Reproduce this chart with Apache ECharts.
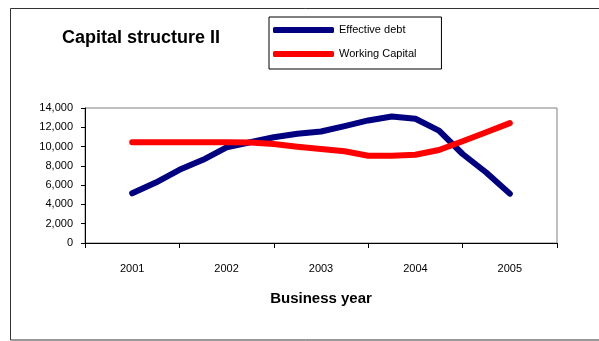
<!DOCTYPE html>
<html>
<head>
<meta charset="utf-8">
<script src="https://cdn.jsdelivr.net/npm/echarts@6/dist/echarts.min.js"></script>
<style>
  html, body { margin: 0; padding: 0; background: #fff; }
  #chart { width: 599px; height: 341px; }
</style>
</head>
<body>
<div id="chart"></div>
<script>
// Business years shown on the category axis
const years = ['2001', '2002', '2003', '2004', '2005'];
// Quarterly observation points (fractional year position)
const periods = [2001, 2001.25, 2001.5, 2001.75, 2002, 2002.25, 2002.5, 2002.75,
                 2003, 2003.25, 2003.5, 2003.75, 2004, 2004.25, 2004.5, 2004.75, 2005];
const effectiveDebt = [5150, 6270, 7590, 8630, 9920, 10450, 10970, 11320,
                       11560, 12120, 12710, 13120, 12880, 11660, 9230, 7310, 5120];
const workingCapital = [10450, 10450, 10450, 10450, 10450, 10410, 10270, 9990,
                        9750, 9510, 9050, 9050, 9150, 9640, 10550, 11490, 12430];
const yTicks = [0, 2000, 4000, 6000, 8000, 10000, 12000, 14000];

const pairs = (vals) => periods.map((p, i) => [p, vals[i]]);
const FONT = 'Liberation Sans, Arial, sans-serif';

const chart = echarts.init(document.getElementById('chart'), null, { renderer: 'canvas' });
chart.setOption({
  animation: false,
  backgroundColor: '#fff',
  title: {
    text: 'Capital structure II',
    left: 57, top: 24,
    textStyle: { fontFamily: FONT, fontSize: 18, fontWeight: 'bold', color: '#000' }
  },
  legend: {
    orient: 'vertical',
    left: 269, top: 17,
    padding: [7, 25, 9, 4],
    itemWidth: 61, itemHeight: 6,
    itemGap: 12,
    icon: 'roundRect',
    borderColor: '#000', borderWidth: 1,
    textStyle: { fontFamily: FONT, fontSize: 11, color: '#000', lineHeight: 12 },
    data: ['Effective debt', 'Working Capital']
  },
  graphic: [{
    type: 'rect',
    shape: { x: 10.5, y: 8.5, width: 600, height: 331.5 },
    style: { fill: 'none', stroke: '#333', lineWidth: 1 },
    silent: true, z: -1
  }],
  grid: {
    left: 85, right: 42, top: 108, bottom: 98,
    show: true, borderColor: '#808080', borderWidth: 1, backgroundColor: '#fff'
  },
  xAxis: [{
    type: 'category',
    data: years,
    boundaryGap: true,
    name: 'Business year',
    nameLocation: 'middle',
    nameGap: 48,
    nameTextStyle: { fontFamily: FONT, fontSize: 15, fontWeight: 'bold', color: '#000' },
    axisLine: { lineStyle: { color: '#000', width: 1 } },
    axisTick: { show: true, length: 5, alignWithLabel: false, lineStyle: { color: '#000' } },
    axisLabel: { margin: 20, fontFamily: FONT, fontSize: 11, color: '#000' },
    splitLine: { show: false }
  }, {
    type: 'value',
    min: 2000.5, max: 2005.5,
    show: false,
    splitLine: { show: false }
  }],
  yAxis: {
    type: 'value',
    min: yTicks[0], max: yTicks[yTicks.length - 1], interval: 2000,
    axisLine: { show: true, lineStyle: { color: '#000', width: 1 } },
    axisTick: { show: true, length: 4, lineStyle: { color: '#000' } },
    axisLabel: {
      margin: 12, fontFamily: FONT, fontSize: 11, color: '#000',
      formatter: (v) => v.toLocaleString('en-US')
    },
    splitLine: { show: false }
  },
  series: [{
    name: 'Effective debt',
    type: 'line',
    xAxisIndex: 1,
    data: pairs(effectiveDebt),
    symbol: 'none',
    color: '#000080',
    lineStyle: { color: '#000080', width: 6, cap: 'round', join: 'round' },
    z: 3
  }, {
    name: 'Working Capital',
    type: 'line',
    xAxisIndex: 1,
    data: pairs(workingCapital),
    symbol: 'none',
    color: '#ff0000',
    lineStyle: { color: '#ff0000', width: 6, cap: 'round', join: 'round' },
    z: 4
  }]
});
</script>
</body>
</html>
